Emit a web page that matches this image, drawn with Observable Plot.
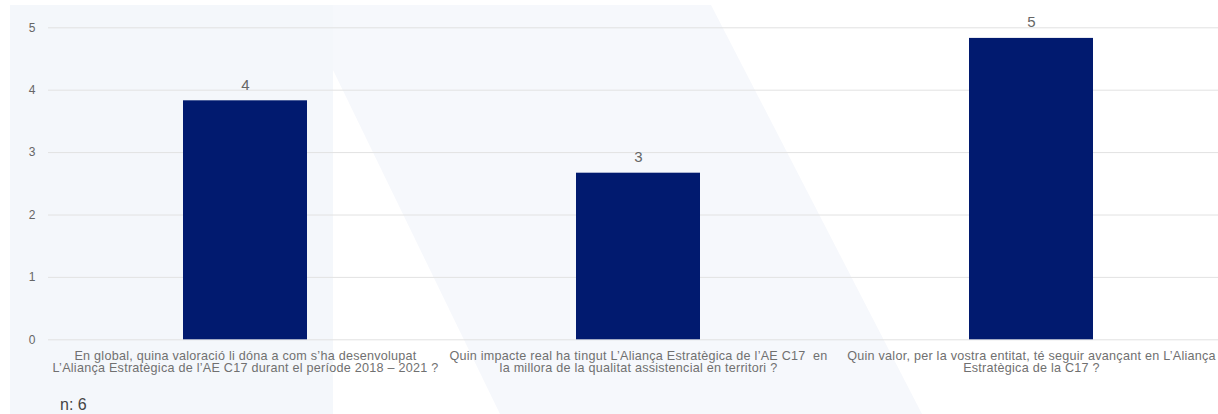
<!DOCTYPE html>
<html>
<head>
<meta charset="utf-8">
<script src="https://cdn.jsdelivr.net/npm/d3@7"></script>
<script src="https://cdn.jsdelivr.net/npm/@observablehq/plot@0.6"></script>
<style>
  html, body { margin: 0; padding: 0; background: #ffffff; }
  #wrap { position: relative; width: 1218px; height: 414px; overflow: hidden; font-family: "Liberation Sans", Arial, sans-serif; }
  #bg { position: absolute; left: 0; top: 0; }
  #chart { position: absolute; left: 0; top: 0; }
  #note { position: absolute; left: 60px; top: 397px; font-size: 16px; line-height: 16px; color: #444; }
  #chart [aria-label="x-axis tick label"] text { letter-spacing: 0.25px; }
</style>
</head>
<body>
<div id="wrap">
  <svg id="bg" width="1218" height="414">
    <rect x="10" y="5" width="323" height="409" fill="#f4f7fb"></rect>
    <polygon points="333,5 711,5 922,414 500,414 333,70" fill="#f6f8fc"></polygon>
  </svg>
  <div id="chart"></div>
  <div id="note"></div>
</div>
<script>
const categories = [
  "En global, quina valoració li dóna a com s’ha desenvolupat\nL’Aliança Estratègica de l’AE C17 durant el període 2018 – 2021 ?",
  "Quin impacte real ha tingut L’Aliança Estratègica de l’AE C17  en\nla millora de la qualitat assistencial en territori ?",
  "Quin valor, per la vostra entitat, té seguir avançant en L’Aliança\nEstratègica de la C17 ?"
];
const values = [3.83, 2.67, 4.83];
const valueLabels = ["4", "3", "5"];
const yTicks = [0, 1, 2, 3, 4, 5];
const nLabel = "n: 6";

const data = categories.map((q, i) => ({q, v: values[i], label: valueLabels[i]}));

const chart = Plot.plot({
  width: 1218,
  height: 400,
  marginLeft: 48,
  marginRight: 0,
  marginTop: 27.3,
  marginBottom: 60.7,
  style: {fontFamily: "'Liberation Sans', Arial, sans-serif", background: "transparent"},
  x: {domain: categories, range: [48, 1227], paddingInner: 0.685, paddingOuter: 0.34, align: 0.5, label: null},
  y: {domain: [0, 5], ticks: yTicks, label: null},
  marks: [
    Plot.gridY(yTicks, {stroke: "#e2e2e2", strokeOpacity: 1}),
    Plot.axisY(yTicks, {tickSize: 0, tickPadding: 13, fontSize: 12, fill: "#666", label: null, tickFormat: d3.format("d")}),
    Plot.barY(data, {x: "q", y: "v", fill: "#011a6f"}),
    Plot.text(data, {x: "q", y: "v", text: "label", lineAnchor: "bottom", dy: -11, fontSize: 15, fill: "#666"}),
    Plot.axisX({tickSize: 0, tickPadding: 12, fontSize: 12.6, lineHeight: 0.95, fill: "#707070", label: null, tickFormat: d => d})
  ]
});
document.getElementById("chart").appendChild(chart);
document.getElementById("note").textContent = nLabel;
</script>
</body>
</html>
